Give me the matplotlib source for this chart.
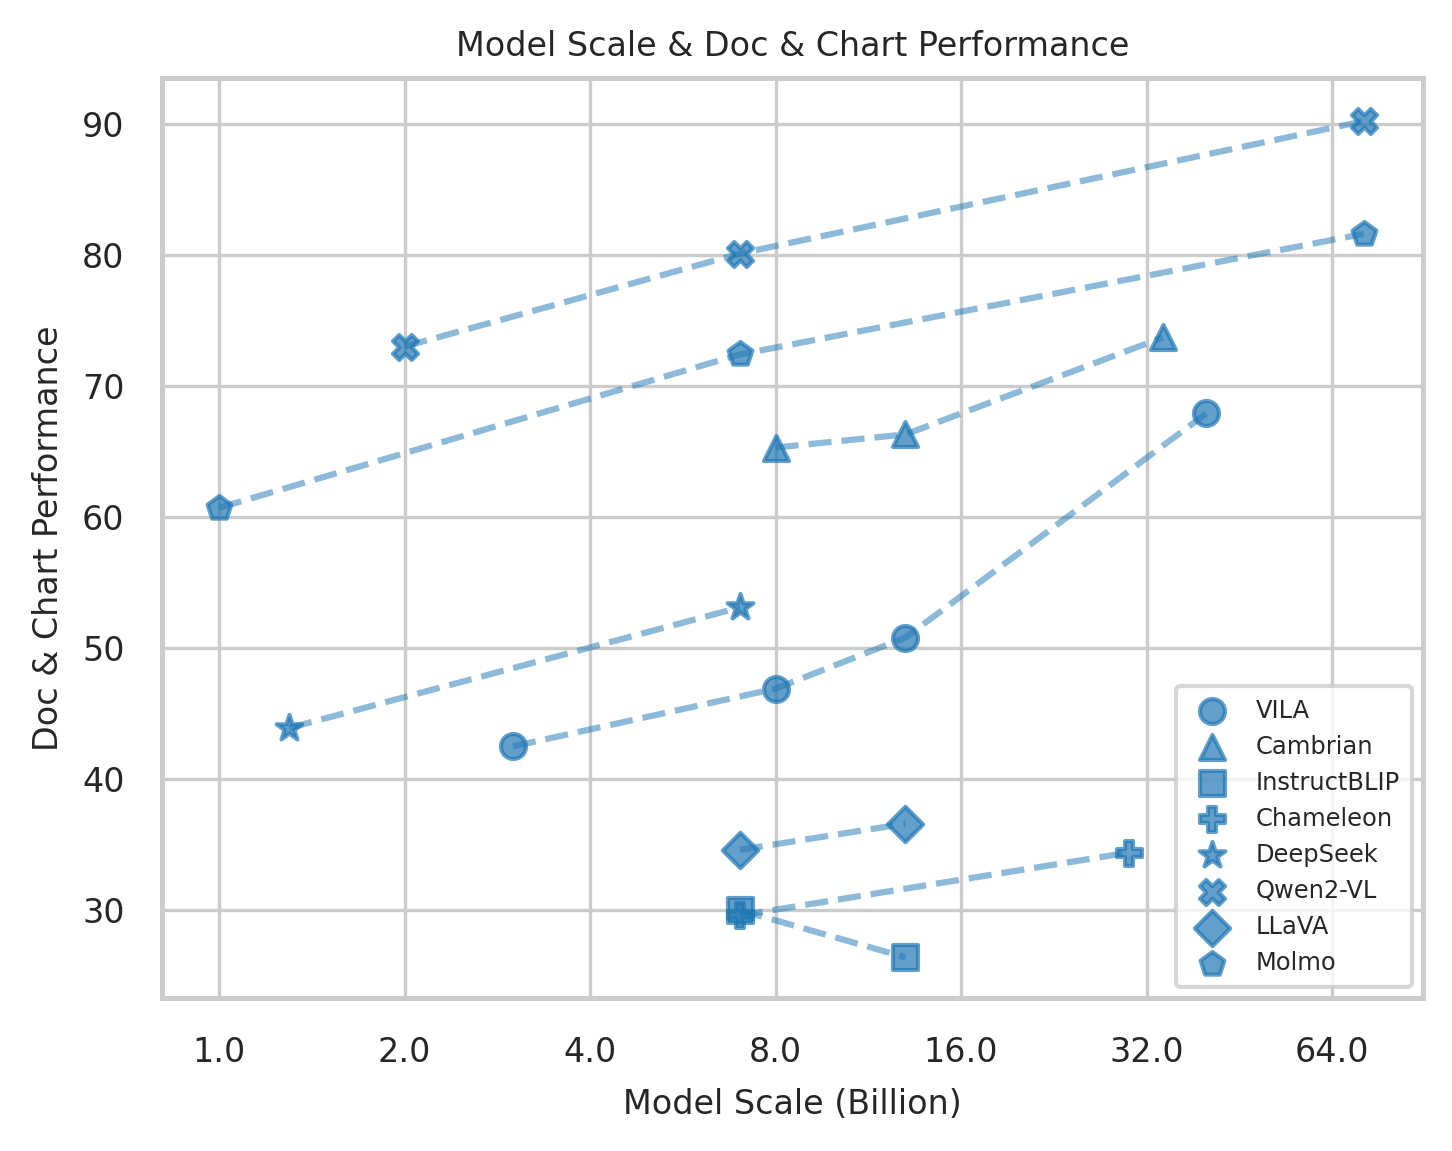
import matplotlib
matplotlib.use("Agg")
import matplotlib.pyplot as plt
import seaborn as sns
import numpy as np

sns.set_theme(style="whitegrid")
plt.rcParams['font.family'] = ['DejaVu Sans']

models = ["VILA", "Cambrian", "InstructBLIP", "Chameleon", "DeepSeek", "Qwen2-VL", "LLaVA", "Molmo"]
markers = ["o", "^", "s", "P", "*", "X", "D", "p"]

vila_x = [3, 8, 13, 40]
vila_y = [42.5, 46.9, 50.8, 67.9]
cambrian_x = [8, 13, 34]
cambrian_y = [65.3, 66.3, 73.7]
instructblip_x = [7, 13]
instructblip_y = [30.0, 26.4]
chameleon_x = [7, 30]
chameleon_y = [29.6, 34.4]
deepseek_x = [1.3, 7]
deepseek_y = [43.9, 53.1]
qwen_x = [2, 7, 72]
qwen_y = [73.0, 80.1, 90.2]
llava_x = [7, 13]
llava_y = [34.6, 36.6]
molmo_x = [1, 7, 72]
molmo_y = [60.7, 72.4, 81.6]

series_x = [vila_x, cambrian_x, instructblip_x, chameleon_x, deepseek_x, qwen_x, llava_x, molmo_x]
series_y = [vila_y, cambrian_y, instructblip_y, chameleon_y, deepseek_y, qwen_y, llava_y, molmo_y]

xticks = [1, 2, 4, 8, 16, 32, 64]
xticklabels = ["1.0", "2.0", "4.0", "8.0", "16.0", "32.0", "64.0"]
yticks = [30, 40, 50, 60, 70, 80, 90]

color = "#1f77b4"

fig = plt.figure(figsize=(4.84, 3.837), dpi=300)
ax = fig.add_axes([162/1452, 1 - 998/1151, (1423-162)/1452, (998-78)/1151])

for name, m, xs, ys in zip(models, markers, series_x, series_y):
    ax.plot(xs, ys, linestyle="--", color=color, alpha=0.5, linewidth=1.5)
    ms = 6.5 if m == "*" else 6
    ax.scatter(xs, ys, marker=m, s=ms**2, color=color, alpha=0.7,
               edgecolors=color, linewidths=1.0, label=name, zorder=3)

ax.set_xscale("log", base=2)
ax.set_xticks(xticks)
ax.set_xticklabels(xticklabels)
ax.minorticks_off()
ax.set_xlim(0.808, 89.9)
ax.set_ylim(23.3, 93.5)
ax.set_yticks(yticks)
ax.tick_params(axis="both", labelsize=8, pad=3)
ax.set_xlabel("Model Scale (Billion)", fontsize=8, labelpad=4.6)
ax.set_ylabel("Doc & Chart Performance", fontsize=8)
ax.set_title("Model Scale & Doc & Chart Performance", fontsize=8, pad=5.3)
for sp in ax.spines.values():
    sp.set_color("#cccccc")
    sp.set_linewidth(1.2)
ax.grid(True, color="#cccccc", linewidth=0.8)

leg = ax.legend(loc="lower right", fontsize=5.8, frameon=True, markerscale=1.0,
                borderpad=0.5, labelspacing=0.5, handletextpad=0.8,
                borderaxespad=0.45)
leg.get_frame().set_edgecolor("#cccccc")

fig.savefig("out.png", dpi=300)
